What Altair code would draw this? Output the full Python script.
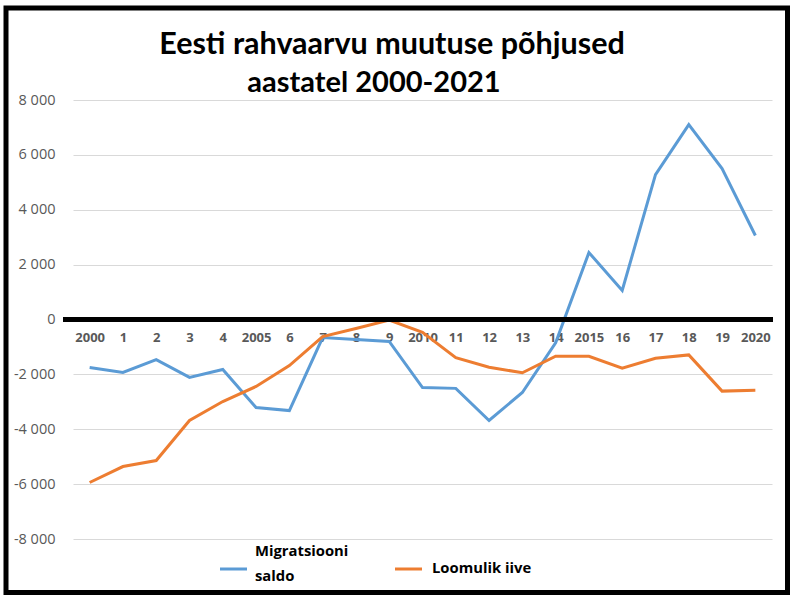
import altair as alt
import pandas as pd

years = ["2000", "1", "2", "3", "4", "2005", "6", "7", "8", "9", "2010",
         "11", "12", "13", "14", "2015", "16", "17", "18", "19", "2020"]
migratsioon = [-1750, -1930, -1460, -2110, -1820, -3210, -3320, -660, -730, -800, -2480,
               -2510, -3680, -2660, -850, 2440, 1060, 5280, 7100, 5500, 3060]
loomulik = [-5940, -5360, -5140, -3680, -2990, -2440, -1680, -620, -330, -20, -470,
            -1390, -1740, -1940, -1340, -1340, -1770, -1410, -1290, -2610, -2580]
series_names = ["Migratsiooni saldo", "Loomulik iive"]
series_colors = ["#5B9BD5", "#ED7D31"]
title_lines = ["Eesti rahvaarvu muutuse põhjused", "aastatel 2000-2021"]

rows = []
for i, y in enumerate(years):
    rows.append({"aasta": y, "seeria": series_names[0], "vaartus": migratsioon[i]})
    rows.append({"aasta": y, "seeria": series_names[1], "vaartus": loomulik[i]})
df = pd.DataFrame(rows)

W, H = 699, 439
one = pd.DataFrame({"v": [0]})

x_enc = alt.X("aasta:N", sort=years,
              scale=alt.Scale(type="point", padding=0.5),
              axis=alt.Axis(title=None, orient="bottom", offset=-220, domain=False, ticks=False,
                            labelAngle=0, labelPadding=12, labelFont="Open Sans",
                            labelFontSize=13, labelFontWeight="bold", labelColor="#595959",
                            grid=False))
y_scale = alt.Scale(domain=[-8000, 8000], nice=False, zero=False)
y_enc = alt.Y("vaartus:Q", scale=y_scale,
              axis=alt.Axis(title=None, values=list(range(-8000, 8001, 2000)),
                            domain=False, ticks=False, grid=True, gridColor="#d9d9d9",
                            gridWidth=1, labelPadding=18, labelFont="Open Sans",
                            labelFontSize=14.5, labelColor="#595959",
                            labelExpr="(datum.value < 0 ? '-' : '') + replace(format(abs(datum.value), ','), ',', ' ')"))

lines = alt.Chart(df).mark_line(strokeWidth=3).encode(
    x=x_enc,
    y=y_enc,
    color=alt.Color("seeria:N", sort=series_names,
                    scale=alt.Scale(domain=series_names, range=series_colors),
                    legend=None),
)

zero = alt.Chart(one).mark_rule(color="black", strokeWidth=5).encode(
    y=alt.Y("v:Q", scale=y_scale),
    x=alt.value(-10), x2=alt.value(W + 1),
)

frame = alt.Chart(one).mark_rect(
    fill=None, stroke="black", strokeWidth=5, clip=False
).encode(
    x=alt.value(-67), x2=alt.value(714.5), y=alt.value(-92), y2=alt.value(492.5),
)

title_font = dict(font="Lato", fontWeight="bold", color="#000000",
                  align="center", baseline="middle")
title1 = alt.Chart(one).mark_text(text=title_lines[0], fontSize=30.5, **title_font).encode(
    x=alt.value(319), y=alt.value(-55))
title2 = alt.Chart(one).mark_text(text=title_lines[1], fontSize=29, **title_font).encode(
    x=alt.value(301), y=alt.value(-17))

leg_font = dict(font="Open Sans", fontSize=14.8, fontWeight="bold", color="#000000",
                align="left", baseline="middle")
blue_words = series_names[0].split(" ")
leg_sym1 = alt.Chart(one).mark_rule(color=series_colors[0], strokeWidth=3).encode(
    x=alt.value(147), x2=alt.value(174), y=alt.value(469))
leg_txt1a = alt.Chart(one).mark_text(text=blue_words[0], **leg_font).encode(
    x=alt.value(182), y=alt.value(452))
leg_txt1b = alt.Chart(one).mark_text(text=blue_words[1], **leg_font).encode(
    x=alt.value(182), y=alt.value(477))
leg_sym2 = alt.Chart(one).mark_rule(color=series_colors[1], strokeWidth=3).encode(
    x=alt.value(322), x2=alt.value(349), y=alt.value(469))
leg_txt2 = alt.Chart(one).mark_text(text=series_names[1], **leg_font).encode(
    x=alt.value(359), y=alt.value(469))

chart = alt.layer(
    lines, zero, frame, title1, title2,
    leg_sym1, leg_txt1a, leg_txt1b, leg_sym2, leg_txt2,
).properties(
    width=W, height=H,
    autosize=alt.AutoSizeParams(type="none"),
    padding={"left": 73, "top": 100, "right": 24, "bottom": 60},
).configure(background="white").configure_view(stroke=None)

chart.save("out.html", embed_options={"renderer": "svg", "actions": False})
